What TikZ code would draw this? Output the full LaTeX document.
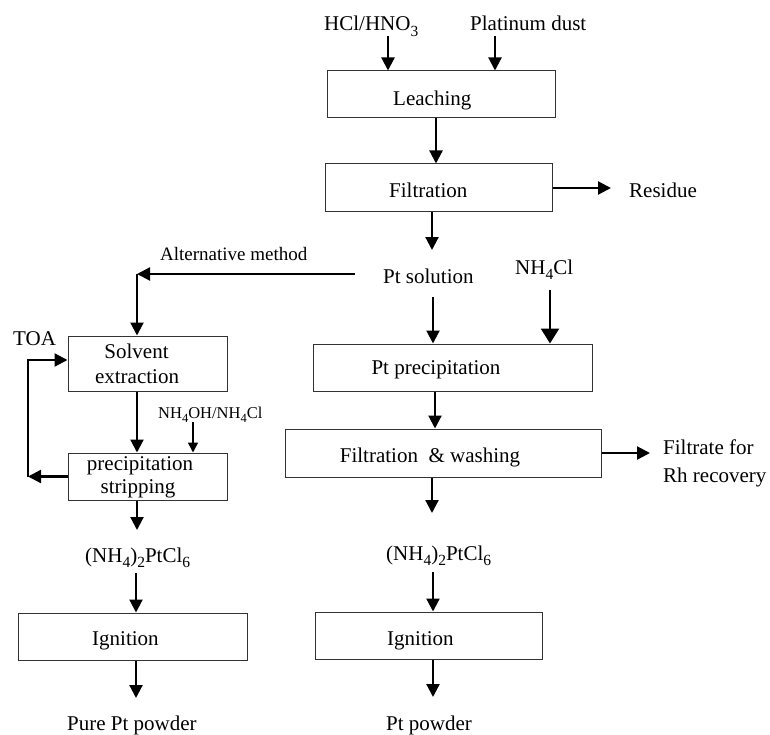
\documentclass[tikz,border=0pt]{standalone}
\usepackage{fontspec}
\setmainfont{Liberation Serif}
\usetikzlibrary{arrows.meta,calc}
\newcommand{\mysb}[1]{\raisebox{-0.26em}{\fontsize{15.5}{16}\selectfont #1}}
\newcommand{\mysbs}[1]{\raisebox{-0.26em}{\fontsize{12.5}{13}\selectfont #1}}
\begin{document}
\begin{tikzpicture}[x=1pt,y=-1pt,
  box/.style={draw=black!80,line width=1pt,inner sep=0pt},
  lbl/.style={inner sep=0pt,font=\fontsize{21}{25}\selectfont},
  midlbl/.style={inner sep=0pt,font=\fontsize{19}{22}\selectfont},
  smalllbl/.style={inner sep=0pt,font=\fontsize{16.5}{19}\selectfont},
  arr/.style={line width=2.2pt,-{Triangle[length=13pt,width=13pt]}},
  bigarr/.style={line width=2.5pt,-{Triangle[length=15pt,width=18pt]}}]
\useasboundingbox (0,0) rectangle (770,735);

% boxes
\node[box,minimum width=228pt,minimum height=47pt] (leach) at (441,94.5) {};
\node[box,minimum width=227pt,minimum height=48pt] (filt) at (438.5,188) {};
\node[box,minimum width=159pt,minimum height=55pt] (solv) at (147.5,363.5) {};
\node[box,minimum width=159pt,minimum height=47pt] (strip) at (147.5,476.5) {};
\node[box,minimum width=229pt,minimum height=47pt] (ignL) at (132.5,636.5) {};
\node[box,minimum width=279pt,minimum height=47pt] (pptbox) at (452.5,367.5) {};
\node[box,minimum width=316pt,minimum height=48pt] (fwash) at (443,453) {};
\node[box,minimum width=227pt,minimum height=47pt] (ignR) at (428.5,635.5) {};

% texts
\node[lbl,anchor=base west] (hcl) at (324,31) {HCl/HNO\mysb{3}};
\node[lbl,anchor=base west] (pdust) at (470,31) {Platinum dust};
\node[lbl,anchor=base west] (leachT) at (393,106) {Leaching};
\node[lbl,anchor=base west] (filtT) at (389,198) {Filtration};
\node[lbl,anchor=base west] (residue) at (629,198) {Residue};
\node[lbl,anchor=base west] (ptsol) at (383,283) {Pt solution};
\node[lbl,anchor=base west] (nh4cl) at (515,274) {NH\mysb{4}Cl};
\node[midlbl,anchor=base west] (alt) at (160,260) {Alternative method};
\node[lbl,anchor=base west] (toa) at (13,345) {TOA};
\node[lbl,anchor=base] (solvT1) at (136.5,358) {Solvent};
\node[lbl,anchor=base] (solvT2) at (137,383) {extraction};
\node[smalllbl,anchor=base west] (nh4oh) at (158,418) {NH\mysbs{4}OH/NH\mysbs{4}Cl};
\node[lbl,anchor=base] (stripT1) at (140,470) {precipitation};
\node[lbl,anchor=base] (stripT2) at (138,493) {stripping};
\node[lbl,anchor=base] (pptT) at (436,374) {Pt precipitation};
\node[lbl,anchor=base] (fwashT) at (430,462) {Filtration \ \& washing};
\node[lbl,anchor=base west] (filtr1) at (663,454) {Filtrate for};
\node[lbl,anchor=base west] (filtr2) at (663,482) {Rh recovery};
\node[lbl,anchor=base west] (amL) at (85,562) {(NH\mysb{4})\mysb{2}PtCl\mysb{6}};
\node[lbl,anchor=base west] (amR) at (386,560) {(NH\mysb{4})\mysb{2}PtCl\mysb{6}};
\node[lbl,anchor=base west] (ignLT) at (92,645) {Ignition};
\node[lbl,anchor=base west] (ignRT) at (387,645) {Ignition};
\node[lbl,anchor=base west] (purept) at (67,730) {Pure Pt powder};
\node[lbl,anchor=base west] (ptpow) at (386,730) {Pt powder};

% connector coordinates
\coordinate (h1) at (388,36);
\coordinate (p1) at (495,36);
\coordinate (x436) at (436,0);
\coordinate (r1) at (611,189);
\coordinate (s1) at (432,250);
\coordinate (al0) at (355,274);
\coordinate (al1) at (137,274);
\coordinate (s2) at (433,297);
\coordinate (n1) at (550,290);
\coordinate (x435) at (435,0);
\coordinate (f1) at (650,454);
\coordinate (w1) at (432,513);
\coordinate (w2) at (433,572);
\coordinate (w3) at (433,697);
\coordinate (x137) at (137,0);
\coordinate (n2) at (193,422);
\coordinate (lpTop) at (28,360);
\coordinate (b1) at (137,530);
\coordinate (b2) at (136,573);
\coordinate (b3) at (136,698);

% connectors
\draw[arr] (h1) -- (h1 |- leach.north);
\draw[arr] (p1) -- (p1 |- leach.north);
\draw[arr] (x436 |- leach.south) -- (x436 |- filt.north);
\draw[arr] (filt.east) -- (filt.east -| r1);
\draw[arr] (s1 |- filt.south) -- (s1);
\draw[arr] (al0) -- (al1);
\draw[arr] (al1) -- (al1 |- solv.north);
\draw[arr] (s2) -- (s2 |- pptbox.north);
\draw[bigarr] (n1) -- (n1 |- pptbox.north);
\draw[arr] (x435 |- pptbox.south) -- (x435 |- fwash.north);
\draw[arr] (fwash.east) -- (fwash.east -| f1);
\draw[arr] (w1 |- fwash.south) -- (w1);
\draw[arr] (w2) -- (w2 |- ignR.north);
\draw[arr] (w2 |- ignR.south) -- (w3);
\draw[arr] (x137 |- solv.south) -- (x137 |- strip.north);
\draw[line width=1.6pt,-{Triangle[length=10pt,width=10pt]}] (n2) -- (n2 |- strip.north);
\draw[arr] (strip.west) -- (strip.west -| lpTop);
\draw[arr] (strip.west -| lpTop) -- (lpTop) -- (lpTop -| solv.west);
\draw[arr] (x137 |- strip.south) -- (b1);
\draw[arr] (b2) -- (b2 |- ignL.north);
\draw[arr] (b2 |- ignL.south) -- (b3);
\end{tikzpicture}
\end{document}
